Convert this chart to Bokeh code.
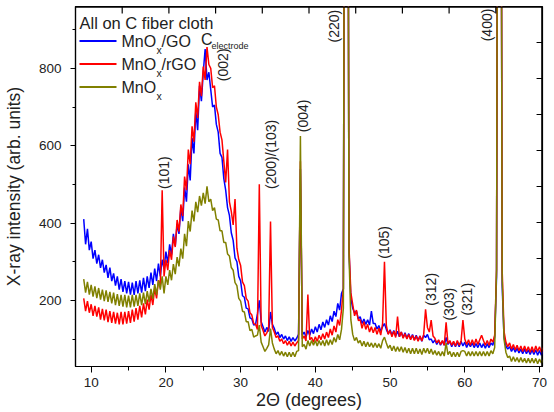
import numpy as np
from math import pi

from bokeh.plotting import figure
from bokeh.models import Range1d, FixedTicker, Label, BoxAnnotation
from bokeh.core.properties import value
from bokeh.embed import file_html
from bokeh.resources import INLINE

# ---------------------------------------------------------------- data
# XRD scans sampled every 0.25 deg from 9.0 to 70.5 deg (2-theta)
two_theta = np.arange(9.0, 70.5 + 0.125, 0.25)

# MnOx/GO on carbon fiber cloth (one row per degree: .00 .25 .50 .75)
mnox_go = [
    410, 345, 385, 330,   # 9
    352, 308, 330, 295,   # 10
    318, 284, 305, 272,   # 11
    292, 258, 285, 250,   # 12
    270, 238, 262, 228,   # 13
    255, 222, 250, 218,   # 14
    248, 215, 246, 214,   # 15
    250, 218, 252, 220,   # 16
    258, 224, 262, 232,   # 17
    272, 240, 282, 250,   # 18
    295, 262, 305, 282,   # 19
    326, 296, 345, 318,   # 20
    372, 340, 398, 372,   # 21
    440, 405, 492, 455,   # 22
    552, 510, 620, 580,   # 23
    690, 640, 755, 715,   # 24
    790, 850, 770, 790,   # 25
    745, 700, 705, 655,   # 26
    635, 580, 570, 515,   # 27
    485, 440, 420, 375,   # 28
    355, 310, 300, 262,   # 29
    250, 212, 208, 180,   # 30
    178, 155, 152, 136,   # 31
    138, 165, 200, 145,   # 32
    132, 118, 130, 120,   # 33
    170, 138, 128, 112,   # 34
    118, 104, 112, 100,   # 35
    108, 96, 106, 94,     # 36
    104, 95, 102, 112,    # 37
    540, 110, 118, 105,   # 38
    122, 110, 126, 114,   # 39
    132, 118, 138, 124,   # 40
    144, 130, 150, 136,   # 41
    160, 145, 172, 158,   # 42
    192, 175, 218, 230,   # 43
    2500, 2500, 330, 205, # 44
    180, 168, 172, 152,   # 45
    158, 140, 152, 138,   # 46
    150, 136, 172, 140,   # 47
    140, 126, 135, 120,   # 48
    132, 140, 125, 114,   # 49
    124, 110, 122, 108,   # 50
    120, 106, 118, 104,   # 51
    116, 102, 114, 100,   # 52
    112, 98, 110, 96,     # 53
    108, 94, 110, 104,    # 54
    112, 98, 100, 90,     # 55
    98, 86, 96, 84,       # 56
    95, 84, 104, 86,      # 57
    94, 80, 92, 80,       # 58
    92, 80, 94, 82,       # 59
    92, 78, 90, 80,       # 60
    90, 78, 88, 78,       # 61
    90, 78, 88, 76,       # 62
    88, 78, 90, 84,       # 63
    105, 260, 2500, 2500, # 64
    240, 105, 82, 74,     # 65
    80, 68, 78, 66,       # 66
    76, 64, 74, 62,       # 67
    74, 62, 72, 60,       # 68
    72, 60, 72, 58,       # 69
    70, 58, 68,           # 70
]

# MnOx/rGO on carbon fiber cloth
mnox_rgo = [
    205, 172, 198, 168,   # 9
    190, 160, 186, 158,   # 10
    182, 150, 178, 148,   # 11
    176, 144, 172, 142,   # 12
    170, 140, 168, 138,   # 13
    170, 138, 170, 140,   # 14
    172, 142, 176, 145,   # 15
    180, 150, 186, 156,   # 16
    192, 164, 202, 176,   # 17
    215, 188, 232, 205,   # 18
    252, 235, 485, 262,   # 19
    305, 278, 330, 305,   # 20
    365, 338, 408, 378,   # 21
    448, 418, 520, 485,   # 22
    590, 552, 650, 610,   # 23
    712, 672, 765, 728,   # 24
    805, 770, 855, 810,   # 25
    800, 750, 755, 700,   # 26
    680, 635, 615, 560,   # 27
    505, 590, 455, 430,   # 28
    395, 462, 335, 305,   # 29
    290, 248, 238, 205,   # 30
    198, 168, 162, 140,   # 31
    138, 125, 500, 135,   # 32
    122, 108, 116, 128,   # 33
    404, 130, 118, 104,   # 34
    108, 94, 100, 88,     # 35
    96, 84, 94, 82,       # 36
    92, 82, 90, 96,       # 37
    560, 100, 108, 95,    # 38
    215, 98, 104, 92,     # 39
    106, 94, 110, 98,     # 40
    114, 100, 118, 104,   # 41
    126, 110, 134, 118,   # 42
    150, 135, 175, 230,   # 43
    2500, 2500, 340, 220, # 44
    190, 160, 175, 148,   # 45
    150, 128, 145, 125,   # 46
    138, 118, 132, 116,   # 47
    130, 112, 128, 110,   # 48
    140, 300, 135, 112,   # 49
    122, 106, 120, 104,   # 50
    158, 106, 118, 102,   # 51
    114, 100, 112, 98,    # 52
    110, 96, 108, 94,     # 53
    108, 95, 112, 177,    # 54
    130, 118, 149, 108,   # 55
    102, 90, 98, 86,      # 56
    96, 84, 143, 88,      # 57
    96, 84, 94, 82,       # 58
    96, 84, 94, 149,      # 59
    100, 86, 98, 84,      # 60
    98, 84, 100, 86,      # 61
    98, 110, 96, 84,      # 62
    96, 84, 100, 92,      # 63
    110, 280, 2500, 2500, # 64
    280, 120, 92, 80,     # 65
    90, 74, 86, 72,       # 66
    84, 70, 82, 68,       # 67
    82, 68, 80, 66,       # 68
    80, 66, 82, 68,       # 69
    80, 66, 78,           # 70
]

# MnOx on carbon fiber cloth
mnox = [
    255, 220, 248, 215,   # 9
    240, 210, 236, 206,   # 10
    232, 202, 228, 198,   # 11
    226, 196, 222, 192,   # 12
    220, 188, 216, 186,   # 13
    214, 184, 214, 182,   # 14
    212, 182, 214, 184,   # 15
    214, 186, 218, 188,   # 16
    220, 190, 224, 196,   # 17
    230, 204, 242, 214,   # 18
    252, 228, 262, 218,   # 19
    262, 240, 278, 252,   # 20
    294, 268, 312, 288,   # 21
    334, 308, 372, 340,   # 22
    405, 378, 432, 404,   # 23
    455, 428, 470, 445,   # 24
    478, 450, 495, 455,   # 25
    462, 432, 440, 410,   # 26
    408, 380, 380, 350,   # 27
    350, 320, 315, 285,   # 28
    278, 246, 238, 205,   # 29
    198, 172, 170, 145,   # 30
    145, 122, 125, 105,   # 31
    108, 110, 136, 92,    # 32
    80, 68, 76, 85,       # 33
    127, 90, 74, 62,      # 34
    70, 58, 68, 56,       # 35
    66, 54, 66, 54,       # 36
    66, 54, 68, 70,       # 37
    625, 80, 86, 74,      # 38
    96, 82, 96, 84,       # 39
    96, 82, 96, 84,       # 40
    96, 82, 98, 84,       # 41
    98, 86, 104, 92,      # 42
    112, 98, 125, 180,    # 43
    2500, 2500, 320, 150, # 44
    112, 96, 104, 90,     # 45
    96, 82, 94, 80,       # 46
    92, 80, 90, 78,       # 47
    90, 78, 88, 76,       # 48
    96, 105, 90, 76,      # 49
    84, 70, 82, 68,       # 50
    80, 68, 80, 66,       # 51
    78, 64, 76, 62,       # 52
    76, 62, 76, 62,       # 53
    74, 60, 76, 64,       # 54
    76, 62, 74, 60,       # 55
    70, 58, 68, 56,       # 56
    68, 56, 90, 60,       # 57
    68, 54, 66, 54,       # 58
    66, 54, 68, 70,       # 59
    68, 56, 68, 56,       # 60
    68, 56, 68, 56,       # 61
    68, 56, 68, 56,       # 62
    68, 56, 70, 62,       # 63
    78, 280, 2500, 2500,  # 64
    260, 100, 66, 52,     # 65
    56, 42, 54, 42,       # 66
    52, 40, 52, 40,       # 67
    50, 38, 50, 38,       # 68
    50, 38, 50, 36,       # 69
    48, 38, 46,           # 70
]

x_ticks = [10, 20, 30, 40, 50, 60, 70]
x_minor_ticks = [15, 25, 35, 45, 55, 65]
y_ticks = [200, 400, 600, 800]
y_minor_ticks = [100, 300, 500, 700, 900]

# Miller-index annotations and where they sit (2-theta, intensity)
peak_labels = ["(101)", "(002)", "(200)/(103)", "(004)", "(220)",
               "(105)", "(312)", "(303)", "(321)", "(400)"]
label_x = [19.78, 27.7, 34.1, 38.4, 42.56, 49.17, 55.44, 57.89, 60.33, 62.97]
label_y = [488, 767, 488, 635, 867, 307.6, 186.4, 147.8, 160.6, 870]

# ---------------------------------------------------------------- figure
FONT = "Liberation Sans"
INK = "#222222"
BLUE, RED, OLIVE = "#0000ff", "#ff0000", "#808000"
X0, X1 = 7.9, 70.4
Y0, Y1 = 29, 960

p = figure(width=554, height=412,
           x_range=Range1d(X0, X1), y_range=Range1d(Y0, Y1),
           output_backend="svg", toolbar_location=None,
           min_border_left=69, min_border_right=12,
           min_border_top=6, min_border_bottom=46)
p.background_fill_color = "white"
p.border_fill_color = "white"
p.outline_line_color = "black"
p.outline_line_width = 1.2
p.xgrid.visible = False
p.ygrid.visible = False

xa = p.xaxis[0]
xa.ticker = FixedTicker(ticks=x_ticks, minor_ticks=x_minor_ticks)
xa.major_tick_out, xa.major_tick_in = 6, 0
xa.minor_tick_out, xa.minor_tick_in = 4, 0
xa.major_label_standoff = 5
xa.axis_label = "2\u0398 (degrees)"
xa.axis_label_standoff = 0
xa.axis_label_text_font_size = "18px"

ya = p.yaxis[0]
ya.ticker = FixedTicker(ticks=y_ticks, minor_ticks=y_minor_ticks)
ya.major_tick_out, ya.major_tick_in = 5, 0
ya.minor_tick_out, ya.minor_tick_in = 3, 0
ya.major_label_standoff = 9
ya.axis_label = "X-ray intensity (arb. units)"
ya.axis_label_standoff = 12
ya.axis_label_text_font_size = "17.5px"

for ax in (xa, ya):
    ax.axis_line_color = "black"
    ax.axis_line_width = 1.2
    ax.major_tick_line_color = "black"
    ax.minor_tick_line_color = "black"
    ax.major_label_text_font = FONT
    ax.major_label_text_font_size = "13.5px"
    ax.major_label_text_color = INK
    ax.axis_label_text_font = FONT
    ax.axis_label_text_font_style = "normal"
    ax.axis_label_text_color = INK

# spectra
p.line(two_theta, mnox_go, line_color=BLUE, line_width=1.5)
p.line(two_theta, mnox_rgo, line_color=RED, line_width=1.5)
p.line(two_theta, mnox, line_color=OLIVE, line_width=1.5)

# peak indices
p.text(x=label_x, y=label_y, text=peak_labels, angle=pi / 2,
       text_align="left", text_baseline="middle",
       text_font=value(FONT), text_font_size="14px", text_color=INK)

# carbon electrode (002) marker
p.add_layout(Label(x=25.46, y=875, text="C", text_align="center",
                   text_baseline="middle", text_font=FONT,
                   text_font_size="16px", text_color=INK))
p.add_layout(Label(x=26.1, y=859, text="electrode", text_align="left",
                   text_baseline="middle", text_font=FONT,
                   text_font_size="9px", text_color=INK))

# legend
p.add_layout(Label(x=4, y=344, x_units="screen", y_units="screen",
                   text="All on C fiber cloth", text_align="left",
                   text_baseline="middle", text_font=FONT,
                   text_font_size="16.5px", text_color=INK))
entries = [("/GO", BLUE), ("/rGO", RED), ("", OLIVE)]
for k, (tail, color) in enumerate(entries):
    yc = 325.5 - 23 * k
    p.add_layout(BoxAnnotation(left=4, right=41, bottom=yc - 1, top=yc + 1,
                               left_units="screen", right_units="screen",
                               bottom_units="screen", top_units="screen",
                               fill_color=color, fill_alpha=1.0,
                               line_alpha=0))
    p.add_layout(Label(x=46, y=yc, x_units="screen", y_units="screen",
                       text="MnO", text_align="left", text_baseline="middle",
                       text_font=FONT, text_font_size="16px", text_color=INK))
    p.add_layout(Label(x=81, y=yc - 9, x_units="screen", y_units="screen",
                       text="x", text_align="left", text_baseline="middle",
                       text_font=FONT, text_font_size="10.5px",
                       text_color=INK))
    if tail:
        p.add_layout(Label(x=86, y=yc, x_units="screen", y_units="screen",
                           text=tail, text_align="left",
                           text_baseline="middle", text_font=FONT,
                           text_font_size="16px", text_color=INK))

# top and right frame edges with unlabeled inward ticks (ten divisions)
PX_Y = 0.3867            # pixels per intensity unit
PX_X = 7.55              # pixels per degree
n_div = 10


def frame_piece(left, right, bottom, top):
    p.add_layout(BoxAnnotation(left=left, right=right, bottom=bottom, top=top,
                               fill_color="black", fill_alpha=1.0,
                               line_alpha=0))


frame_piece(X0, X1, Y1 - 1.3 / PX_Y, Y1)              # top edge
frame_piece(X1 - 1.3 / PX_X, X1, Y0, Y1)              # right edge
for k in range(1, n_div):
    tx = X0 + (X1 - X0) * k / n_div
    ty = Y0 + (Y1 - Y0) * k / n_div
    frame_piece(tx - 0.6 / PX_X, tx + 0.6 / PX_X, Y1 - 7 / PX_Y, Y1)
    frame_piece(X1 - 6 / PX_X, X1, ty - 0.6 / PX_Y, ty + 0.6 / PX_Y)

open("out.html", "w").write(file_html(p, INLINE))
